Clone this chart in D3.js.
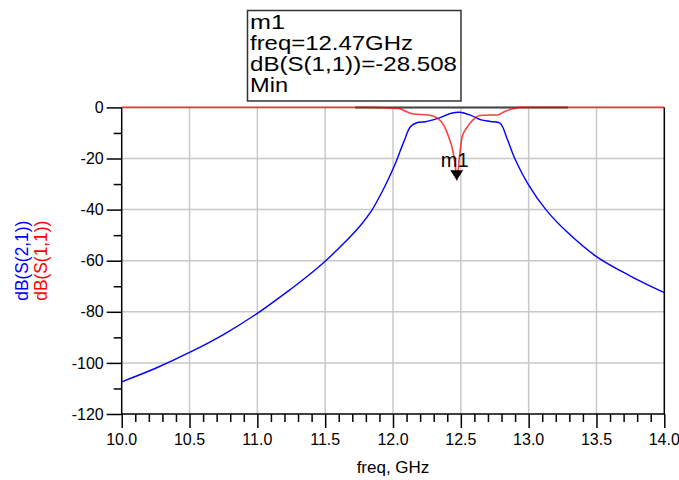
<!DOCTYPE html>
<html>
<head>
<meta charset="utf-8">
<script src="https://cdn.jsdelivr.net/npm/d3@7"></script>
<style>
  body { margin: 0; background: #fff; }
  svg { font-family: "Liberation Sans", Arial, sans-serif; }
</style>
</head>
<body>
<div id="chart"></div>
<script>
// frequency sweep, GHz
const s21Freq = [10.0, 10.25, 10.5, 10.75, 11.0, 11.25, 11.35, 11.5, 11.63, 11.76, 11.84, 11.92, 11.99, 12.03, 12.08, 12.13, 12.18, 12.24, 12.33, 12.43, 12.49, 12.57, 12.65, 12.72, 12.79, 12.84, 12.9, 13.0, 13.13, 13.28, 13.5, 13.75, 14.0];
const s21dB   = [-107.4, -102.1, -95.9, -88.9, -80.6, -71.0, -66.9, -60.2, -53.6, -46.2, -40.6, -33.0, -25.3, -20.3, -13.4, -7.5, -5.9, -5.6, -4.3, -2.3, -1.9, -3.0, -4.9, -5.5, -6.2, -12.1, -20.3, -30.4, -40.2, -48.6, -58.4, -66.0, -72.5];

const s11Freq = [10.0, 11.78, 12.04, 12.10, 12.15, 12.26, 12.33, 12.38, 12.41, 12.44, 12.46, 12.47, 12.49, 12.51, 12.55, 12.59, 12.64, 12.71, 12.77, 12.82, 12.89, 12.95, 14.0];
const s11dB   = [0, 0, -0.4, -1.7, -2.6, -3.0, -4.3, -7.5, -11.5, -16.7, -23.2, -28.508, -19.3, -11.5, -7.5, -4.9, -3.2, -3.0, -3.0, -1.7, -0.4, 0, 0];

// dark segment along the 0 dB line
const topBand = [11.72, 13.29];

const xTicks = [10.0, 10.5, 11.0, 11.5, 12.0, 12.5, 13.0, 13.5, 14.0];
const yTicks = [0, -20, -40, -60, -80, -100, -120];

const markerName = "m1";
const markerFreq = 12.47;
const markerVal = -28.508;
const markerLines = ["m1", "freq=12.47GHz", "dB(S(1,1))=-28.508", "Min"];

const width = 679, height = 480;
const margin = {top: 107.4, right: 14.7, bottom: 66, left: 121.7};

const svg = d3.select("#chart").append("svg")
    .attr("width", width)
    .attr("height", height);

const x = d3.scaleLinear().domain([10, 14]).range([margin.left, width - margin.right]);
const y = d3.scaleLinear().domain([-120, 0]).range([height - margin.bottom, margin.top]);

// grid
svg.append("g")
  .selectAll("line")
  .data(xTicks.slice(1, -1))
  .join("line")
    .attr("x1", d => x(d)).attr("x2", d => x(d))
    .attr("y1", y(0)).attr("y2", y(-120))
    .attr("stroke", "#c8c8c8").attr("stroke-width", 1.5);

svg.append("g")
  .selectAll("line")
  .data(yTicks.slice(1, -1))
  .join("line")
    .attr("x1", x(10)).attr("x2", x(14))
    .attr("y1", d => y(d)).attr("y2", d => y(d))
    .attr("stroke", "#c8c8c8").attr("stroke-width", 1.5);

// top border + right border
svg.append("line")
  .attr("x1", x(10)).attr("x2", x(14)).attr("y1", y(0)).attr("y2", y(0))
  .attr("stroke", "#c8c8c8").attr("stroke-width", 1.5);
svg.append("line")
  .attr("x1", x(14)).attr("x2", x(14)).attr("y1", y(0)).attr("y2", y(-120))
  .attr("stroke", "#000").attr("stroke-width", 1.5);

// Add the X Axis
const xAxis = svg.append("g")
    .attr("transform", "translate(0," + y(-120) + ")");
xAxis.call(d3.axisBottom(x).tickValues(d3.range(10, 14.001, 0.1)).tickSize(8).tickFormat(""));
xAxis.call(g => g.selectAll(".tick").filter(d => xTicks.some(t => Math.abs(t - d) < 1e-6))
    .select("line").attr("y2", 14));
xAxis.selectAll("line, path").attr("stroke", "#000").attr("stroke-width", 1.5);
xAxis.select(".domain").attr("d", "M" + x(10) + ",0H" + x(14));

svg.append("g")
  .selectAll("text")
  .data(xTicks)
  .join("text")
    .attr("x", d => x(d))
    .attr("y", y(-120) + 31)
    .attr("text-anchor", "middle")
    .attr("font-size", 16)
    .attr("fill", "#000")
    .text(d => d.toFixed(1));

// Add the Y Axis
const yAxis = svg.append("g")
    .attr("transform", "translate(" + x(10) + ",0)");
yAxis.call(d3.axisLeft(y).tickValues(d3.range(-120, 0.001, 10)).tickSize(8).tickFormat(""));
yAxis.call(g => g.selectAll(".tick").filter(d => d % 20 === 0).select("line").attr("x2", -15));
yAxis.selectAll("line, path").attr("stroke", "#000").attr("stroke-width", 1.5);
yAxis.select(".domain").attr("d", "M0," + y(0) + "V" + y(-120));

svg.append("g")
  .selectAll("text")
  .data(yTicks)
  .join("text")
    .attr("x", x(10) - 18)
    .attr("y", d => y(d))
    .attr("dy", "0.35em")
    .attr("text-anchor", "end")
    .attr("font-size", 16)
    .attr("fill", "#000")
    .text(d => d);

// axis titles
svg.append("text")
  .attr("x", (x(10) + x(14)) / 2)
  .attr("y", 473)
  .attr("text-anchor", "middle")
  .attr("font-size", 17)
  .text("freq, GHz");

const yTitle = svg.append("text")
  .attr("transform", "translate(0," + y(-60) + ") rotate(-90)")
  .attr("text-anchor", "middle")
  .attr("font-size", 18);
yTitle.append("tspan").attr("x", 0).attr("y", 28).attr("fill", "#0000ff")
  .attr("textLength", 80).attr("lengthAdjust", "spacingAndGlyphs").text("dB(S(2,1))");
yTitle.append("tspan").attr("x", 0).attr("y", 47).attr("fill", "#ff0000")
  .attr("textLength", 80).attr("lengthAdjust", "spacingAndGlyphs").text("dB(S(1,1))");

//Draw the lines
svg.append("line")
  .attr("x1", x(topBand[0])).attr("x2", x(topBand[1]))
  .attr("y1", y(0)).attr("y2", y(0))
  .attr("stroke", "#444").attr("stroke-width", 2);

const s21Line = d3.line()
    .x(d => x(d[0]))
    .y(d => y(d[1]))
    .curve(d3.curveCatmullRom.alpha(0.5));

const s11Line = d3.line()
    .x(d => x(d[0]))
    .y(d => y(d[1]))
    .curve(d3.curveMonotoneX);

svg.append("path")
  .datum(s21Freq.map((f, i) => [f, s21dB[i]]))
  .attr("fill", "none")
  .attr("stroke", "#0000ff")
  .attr("stroke-width", 1.4)
  .attr("d", s21Line);

svg.append("path")
  .datum(s11Freq.map((f, i) => [f, s11dB[i]]))
  .attr("fill", "none")
  .attr("stroke", "#ff0000")
  .attr("stroke-opacity", 0.75)
  .attr("stroke-width", 1.6)
  .attr("d", s11Line);

// marker
const mx = x(markerFreq), my = y(markerVal);
svg.append("path")
  .attr("d", "M" + mx + "," + my + "L" + (mx - 6.5) + "," + (my - 10) + "L" + (mx + 6.5) + "," + (my - 10) + "Z")
  .attr("fill", "#000");
svg.append("text")
  .attr("x", mx - 2)
  .attr("y", my - 13)
  .attr("text-anchor", "middle")
  .attr("font-size", 20)
  .text(markerName);

// marker readout box
svg.append("rect")
  .attr("x", 247.5).attr("y", 10.5)
  .attr("width", 213.5).attr("height", 90.5)
  .attr("fill", "#fff")
  .attr("stroke", "#333").attr("stroke-width", 1.5);

const lineWidths = [35, 163, 207, 38];
svg.append("g")
  .selectAll("text")
  .data(markerLines)
  .join("text")
    .attr("x", 250)
    .attr("y", (d, i) => 29 + i * 21)
    .attr("font-size", 21)
    .attr("textLength", (d, i) => lineWidths[i])
    .attr("lengthAdjust", "spacingAndGlyphs")
    .text(d => d);
</script>
</body>
</html>
